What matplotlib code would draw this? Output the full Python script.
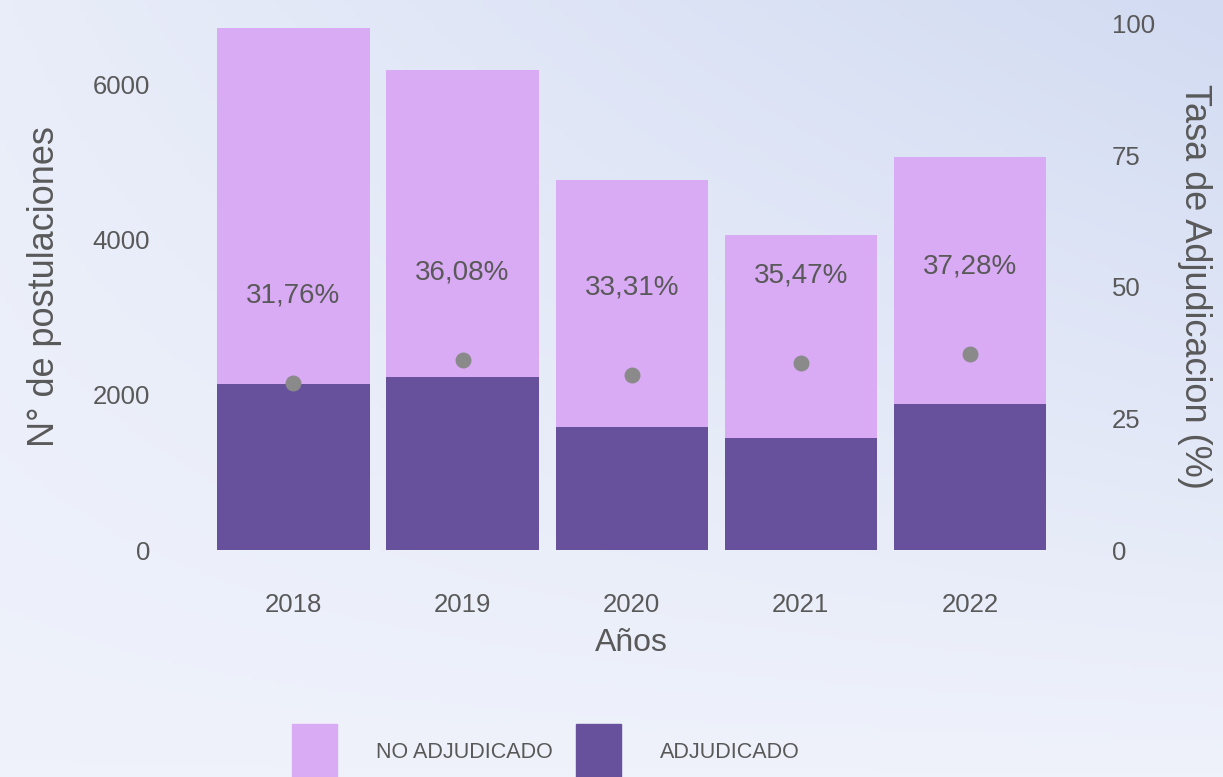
import numpy as np
import matplotlib
matplotlib.use('Agg')
import matplotlib.pyplot as plt
from matplotlib.patches import Patch

# ── Dati ────────────────────────────────────────────────────────────────
anios = ['2018', '2019', '2020', '2021', '2022']
adjudicado = [2135, 2230, 1587, 1439, 1887]
no_adjudicado = [4587, 3952, 3178, 2618, 3174]
tasa = [31.76, 36.08, 33.31, 35.47, 37.28]
tasa_txt = ['31,76%', '36,08%', '33,31%', '35,47%', '37,28%']

C_LIGHT = '#daabf5'
C_DARK = '#68519c'
C_TEXT = '#595959'
C_DOT = '#8a8a8a'

plt.rcParams['font.family'] = ['Liberation Sans', 'DejaVu Sans']

fig = plt.figure(figsize=(12.23, 7.77), dpi=100)

# sfondo sfumato
bg = fig.add_axes([0, 0, 1, 1], zorder=-10)
gx, gy = np.meshgrid(np.linspace(0, 1, 200), np.linspace(0, 1, 200))
grad = 0.55 * gx * (1 - gy) + 0.15 * (1 - gy)
bg.imshow(grad, cmap=matplotlib.colors.LinearSegmentedColormap.from_list(
    'bg', ['#eff2fb', '#d2dbf2']), aspect='auto', extent=[0, 1, 0, 1], vmin=0, vmax=0.7)
bg.axis('off')

ax = fig.add_axes([0.157, 0.292, 0.719, 0.678])
ax.patch.set_alpha(0)
x = np.arange(len(anios))
ax.bar(x, adjudicado, width=0.9, color=C_DARK, zorder=2)
ax.bar(x, no_adjudicado, bottom=adjudicado, width=0.9, color=C_LIGHT, zorder=2)
ax.set_xlim(-0.6, 4.6)
ax.set_ylim(0, 6787)
ax.set_yticks([0, 2000, 4000, 6000])
ax.set_xticks(x, anios)
ax.tick_params(length=0, labelsize=18.5, labelcolor=C_TEXT, pad=30)
ax.tick_params(axis='x', pad=31)
for s in ax.spines.values():
    s.set_visible(False)
ax.set_ylabel('N° de postulaciones', fontsize=26, color=C_TEXT, labelpad=22)
ax.set_xlabel('Años', fontsize=23, color=C_TEXT, labelpad=8)

ax2 = ax.twinx()
ax2.scatter(x, tasa, s=110, color=C_DOT, zorder=4)
for xi, t, lab in zip(x, tasa, tasa_txt):
    ax2.text(xi, t + 16.6, lab, ha='center', va='center', fontsize=20, color=C_TEXT)
ax2.set_ylim(0, 100)
ax2.set_yticks([0, 25, 50, 75, 100])
ax2.tick_params(length=0, labelsize=18.5, labelcolor=C_TEXT, pad=29)
for s in ax2.spines.values():
    s.set_visible(False)
ax2.set_ylabel('Tasa de Adjudicacion (%)', fontsize=26, color=C_TEXT,
               rotation=270, labelpad=41)

handles = [Patch(color=C_LIGHT, label='NO ADJUDICADO'),
           Patch(color=C_DARK, label='ADJUDICADO')]
fig.legend(handles=handles, loc='center', bbox_to_anchor=(0.4465, 0.032),
           ncol=2, frameon=False, fontsize=15.5, labelcolor=C_TEXT,
           handlelength=2.09, handleheight=3.6, handletextpad=1.8,
           columnspacing=1.1)

plt.savefig('out.png', dpi=100)
